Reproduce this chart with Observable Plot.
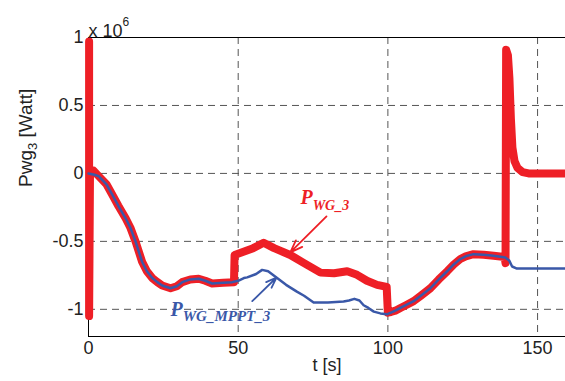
<!DOCTYPE html>
<html><head><meta charset="utf-8">
<script src="https://cdn.jsdelivr.net/npm/d3@7"></script>
<script src="https://cdn.jsdelivr.net/npm/@observablehq/plot@0.6"></script>
<style>
html,body{margin:0;padding:0;background:#fff;overflow:hidden;}
</style></head><body><div id="chart"></div>
<script>
// ---- data (values in units of 1e6 W) ----
const tBlue = [0,2,3.4,6,7.9,10,12.4,14,15.7,17.9,19.5,21.3,23,24.6,27.4,29.5,31.3,34,36.8,39,41.3,45,48,50,51.9,53,56,58,60,63,66,69.6,72,75.2,80,85.2,87,88.8,90.5,91.9,93.5,95.3,97.5,99.7,102.5,104.2,106,108.6,111,114.2,117,119.8,122,124.2,126,128.6,132,135.3,139.2,140.5,141.5,143.1,145,160];
const vBlue = [0.0,-0.01,-0.02,-0.08,-0.155,-0.24,-0.33,-0.4,-0.5,-0.65,-0.72,-0.77,-0.80,-0.825,-0.845,-0.83,-0.80,-0.78,-0.775,-0.79,-0.81,-0.805,-0.80,-0.79,-0.77,-0.765,-0.74,-0.71,-0.72,-0.77,-0.82,-0.87,-0.9,-0.95,-0.95,-0.943,-0.935,-0.923,-0.935,-0.97,-0.99,-1.017,-1.03,-1.037,-1.01,-0.99,-0.97,-0.94,-0.9,-0.845,-0.78,-0.72,-0.67,-0.63,-0.61,-0.594,-0.598,-0.606,-0.618,-0.64,-0.685,-0.70,-0.70,-0.70];
const tRed = [0.2,0.2,0.5,1.7,3.4,6,7.9,10,12.4,14,15.7,17.9,19.5,21.3,23,24.6,27.4,29.5,31.3,34,36.8,39,41.3,45,48.6,48.8,52,55,58.5,62,67.4,72,77.5,82,86.4,89.7,93,96.4,99.6,100.0,101,102.5,104.2,106,108.6,111,114.2,117,119.8,122,124.2,126,128.6,132,135.3,139.0,139.3,139.5,140.1,140.6,141.1,141.6,142.3,143.3,145,147,160];
const vRed = [0.97,-1.05,0.0,0.02,-0.02,-0.08,-0.155,-0.24,-0.33,-0.4,-0.5,-0.65,-0.72,-0.77,-0.80,-0.825,-0.845,-0.83,-0.80,-0.78,-0.775,-0.79,-0.81,-0.805,-0.80,-0.60,-0.575,-0.55,-0.51,-0.55,-0.60,-0.66,-0.73,-0.735,-0.72,-0.746,-0.79,-0.82,-0.835,-1.025,-1.02,-1.01,-0.99,-0.97,-0.94,-0.9,-0.845,-0.78,-0.72,-0.67,-0.63,-0.61,-0.594,-0.598,-0.606,-0.615,-0.66,0.91,0.87,0.70,0.40,0.19,0.09,0.04,0.01,0.0,0.0];

const xTicks = [0, 50, 100, 150];
const yTicks = [-1, -0.5, 0, 0.5, 1];
const yTickLabels = ["-1", "-0.5", "0", "0.5", "1"];

const seriesLabels = ["PWG_3", "PWG_MPPT_3"];
const labelT = [70.8, 27.4];
const labelV = [-0.227, -1.047];
const arrowT1 = [79.5, 54.7];
const arrowV1 = [-0.316, -0.94];
const arrowT2 = [67.4, 62.8];
const arrowV2 = [-0.581, -0.766];

const RED = "#ee1f26", BLUE = "#3a58a8";

const blue = tBlue.map((t, i) => ({t, v: vBlue[i]}));
const red = tRed.map((t, i) => ({t, v: vRed[i]}));
const labels = seriesLabels.map((s, i) => ({s, t: labelT[i], v: labelV[i], c: i === 0 ? RED : BLUE}));
const arrows = seriesLabels.map((s, i) => ({t1: arrowT1[i], v1: arrowV1[i], t2: arrowT2[i], v2: arrowV2[i], c: i === 0 ? RED : BLUE}));

const FONT = "'Liberation Sans', Arial, sans-serif";
const SERIF = "'Liberation Serif', 'Times New Roman', serif";

const svg = Plot.plot({
  width: 565, height: 381,
  marginLeft: 88, marginRight: 0, marginTop: 37, marginBottom: 45,
  x: {domain: [0, 160], range: [88, 567]},
  y: {domain: [-1.2, 1]},
  style: {fontFamily: FONT, fontSize: "18px", color: "#222", background: "#fff"},
  marks: [
    Plot.gridY(yTicks.filter(d => d !== 1), {stroke: "#555", strokeOpacity: 1, strokeDasharray: "7,5", strokeWidth: 1}),
    Plot.gridX(xTicks.filter(d => d !== 0), {stroke: "#555", strokeOpacity: 1, strokeDasharray: "7,5", strokeWidth: 1}),
    Plot.ruleX([0], {stroke: "#000", strokeWidth: 1}),
    Plot.ruleY([-1.2], {stroke: "#000", strokeWidth: 1}),
    Plot.ruleY([1], {stroke: "#000", strokeWidth: 1}),
    Plot.line(red, {x: "t", y: "v", stroke: RED, strokeWidth: 8, strokeLinejoin: "round", strokeLinecap: "round"}),
    Plot.line(blue, {x: "t", y: "v", stroke: BLUE, strokeWidth: 2.5, strokeLinejoin: "round"}),
    Plot.arrow(arrows, {x1: "t1", y1: "v1", x2: "t2", y2: "v2", stroke: "c", strokeWidth: 1.8, headLength: 11, headAngle: 40}),
    Plot.text(labels, {x: "t", y: "v", text: "s", fill: "c", textAnchor: "start", lineAnchor: "bottom", fontFamily: SERIF, fontStyle: "italic", fontWeight: "bold", fontSize: 20}),
    Plot.axisY(yTicks, {tickSize: 0, tickPadding: 5, tickFormat: d => yTickLabels[yTicks.indexOf(d)], label: null, fontSize: 18}),
    Plot.axisX(xTicks, {tickSize: 0, tickPadding: 5, label: null, fontSize: 18}),
    Plot.text(["Pwg3 [Watt]"], {frameAnchor: "left", dx: -63, rotate: -90, fontSize: 19, fill: "#222"}),
    Plot.text(["t [s]"], {frameAnchor: "bottom", dy: 34, fontSize: 18, fill: "#222"}),
    Plot.text(["x 106"], {frameAnchor: "top-left", textAnchor: "start", dy: -13, fontSize: 18, fill: "#222"})
  ]
});

// rich text: subscripts / superscripts
d3.select(svg).selectAll("text").each(function () {
  const el = d3.select(this);
  const txt = this.textContent;
  const set = (parts) => {
    el.text(null);
    parts.forEach(p => {
      const ts = el.append("tspan").text(p.t);
      if (p.dy) ts.attr("dy", p.dy);
      if (p.fs) ts.attr("font-size", p.fs);
    });
  };
  if (txt === "Pwg3 [Watt]") set([{t: "Pwg"}, {t: "3", dy: 5, fs: 13}, {t: "\u00a0[Watt]", dy: -5}]);
  else if (txt === "x 106") set([{t: "x 10"}, {t: "6", dy: -11, fs: 12}]);
  else if (txt === "PWG_3") set([{t: "P"}, {t: "WG_3", dy: 6, fs: 14}]);
  else if (txt === "PWG_MPPT_3") set([{t: "P"}, {t: "WG_MPPT_3", dy: 5, fs: 15}]);
});

document.getElementById("chart").appendChild(svg);
</script>
</body></html>
